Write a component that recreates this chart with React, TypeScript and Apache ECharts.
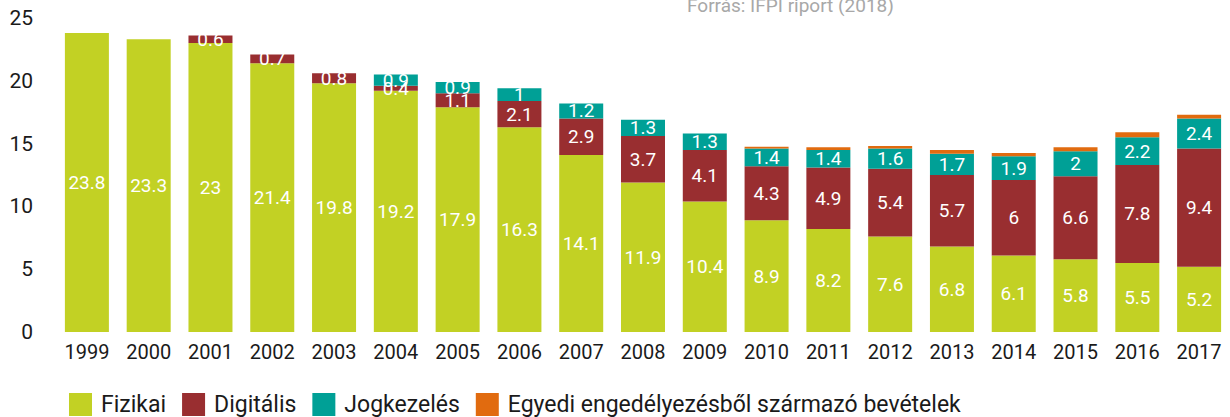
import React, { useEffect, useRef } from "react";
import * as echarts from "echarts";

const years = ["1999","2000","2001","2002","2003","2004","2005","2006","2007","2008","2009","2010","2011","2012","2013","2014","2015","2016","2017"];
const fizikai = [23.8, 23.3, 23, 21.4, 19.8, 19.2, 17.9, 16.3, 14.1, 11.9, 10.4, 8.9, 8.2, 7.6, 6.8, 6.1, 5.8, 5.5, 5.2];
const digitalis = [null, null, 0.6, 0.7, 0.8, 0.4, 1.1, 2.1, 2.9, 3.7, 4.1, 4.3, 4.9, 5.4, 5.7, 6, 6.6, 7.8, 9.4];
const jogkezeles = [null, null, null, null, null, 0.9, 0.9, 1, 1.2, 1.3, 1.3, 1.4, 1.4, 1.6, 1.7, 1.9, 2, 2.2, 2.4];
const egyedi = [null, null, null, null, null, null, null, null, null, null, null, 0.15, 0.2, 0.2, 0.3, 0.25, 0.3, 0.4, 0.3];
const yTicks = [0, 5, 10, 15, 20, 25];
const seriesNames = ["Fizikai", "Digitális", "Jogkezelés", "Egyedi engedélyezésből származó bevételek"];
const colors = ["#C2D124", "#992E30", "#00A096", "#E16B0F"];
const sourceText = "Forrás: IFPI riport (2018)";

const FONT = "Roboto, 'Noto Sans', sans-serif";

export default function App() {
  const ref = useRef<HTMLDivElement>(null);
  useEffect(() => {
    if (!ref.current) return;
    const chart = echarts.init(ref.current, null, { renderer: "svg" });
    const label = (show: boolean) => ({
      show,
      position: "inside" as const,
      color: "#ffffff",
      fontSize: 19,
      fontFamily: FONT,
    });
    const datasets = [fizikai, digitalis, jogkezeles, egyedi];
    chart.setOption({
      animation: false,
      textStyle: { fontFamily: FONT },
      color: colors,
      grid: { left: 56, right: -10, top: 18, bottom: 85, containLabel: false },
      legend: {
        left: 64,
        top: 388,
        itemWidth: 23,
        itemHeight: 23,
        itemGap: 16,
        icon: "rect",
        textStyle: { fontSize: 23, color: "#1a1a1a", fontFamily: FONT, padding: [0, 0, 0, 4] },
        data: seriesNames,
      },
      xAxis: {
        type: "category",
        data: years,
        axisLine: { show: false },
        axisTick: { show: false },
        axisLabel: { fontSize: 20, color: "#1a1a1a", margin: 10, fontFamily: FONT, interval: 0 },
      },
      yAxis: {
        type: "value",
        min: yTicks[0],
        max: yTicks[yTicks.length - 1],
        interval: 5,
        splitLine: { show: false },
        axisLine: { show: false },
        axisTick: { show: false },
        axisLabel: { fontSize: 21, color: "#1a1a1a", margin: 23, fontFamily: FONT },
      },
      graphic: [
        {
          type: "text",
          left: 687,
          top: -4,
          style: { text: sourceText, fontSize: 19, fill: "#a8a8a8", fontFamily: FONT },
        },
      ],
      series: datasets.map((d, i) => ({
        name: seriesNames[i],
        type: "bar",
        stack: "total",
        barWidth: 44,
        data: d,
        itemStyle: { color: colors[i] },
        label: label(i < 3),
      })),
    });
    return () => chart.dispose();
  }, []);
  return (
    <div
      ref={ref}
      style={{ position: "absolute", left: 0, top: 0, width: 1230, height: 417 }}
    />
  );
}
